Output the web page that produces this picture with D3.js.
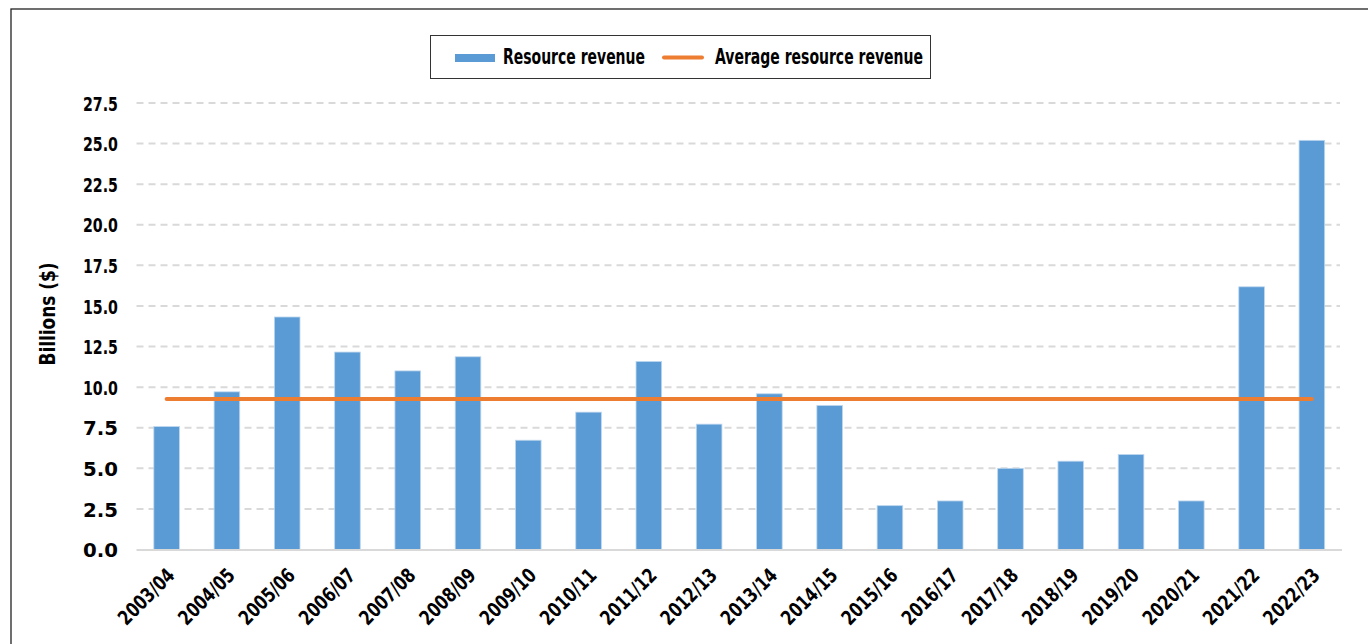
<!DOCTYPE html>
<html>
<head>
<meta charset="utf-8">
<script src="https://cdn.jsdelivr.net/npm/d3@7/dist/d3.min.js"></script>
<style>
  html, body { margin: 0; padding: 0; background: #fff; }
  svg { display: block; }
  text { font-family: "DejaVu Sans", "Liberation Sans", sans-serif; font-stretch: condensed; font-weight: bold; fill: #000; }
</style>
</head>
<body>
<svg id="chart" width="1368" height="644"></svg>
<script>
const categories = ["2003/04","2004/05","2005/06","2006/07","2007/08","2008/09","2009/10","2010/11","2011/12","2012/13","2013/14","2014/15","2015/16","2016/17","2017/18","2018/19","2019/20","2020/21","2021/22","2022/23"];
const resourceRevenue = [7.57, 9.71, 14.32, 12.16, 11.0, 11.87, 6.73, 8.46, 11.58, 7.72, 9.59, 8.87, 2.70, 2.99, 5.0, 5.44, 5.85, 2.99, 16.18, 25.2];
const averageRevenue = [9.27, 9.27, 9.27, 9.27, 9.27, 9.27, 9.27, 9.27, 9.27, 9.27, 9.27, 9.27, 9.27, 9.27, 9.27, 9.27, 9.27, 9.27, 9.27, 9.27];
const yTicks = [0, 2.5, 5, 7.5, 10, 12.5, 15, 17.5, 20, 22.5, 25, 27.5];
const seriesNames = ["Resource revenue", "Average resource revenue"];
const colors = { bar: "#5B9BD5", line: "#ED7D31" };

const FONT = '"DejaVu Sans", "Liberation Sans", sans-serif';
const svg = d3.select("#chart");

// outer frame (left & top visible)
svg.append("rect").attr("x", 11).attr("y", 9).attr("width", 1400).attr("height", 700)
  .attr("fill", "none").attr("stroke", "#222").attr("stroke-width", 1.3);

const plot = { left: 136.5, right: 1342, top: 103, bottom: 549.5 };

const x = d3.scaleBand().domain(categories).range([plot.left, plot.right])
  .paddingInner(0.575).paddingOuter(0.2875);
const y = d3.scaleLinear().domain([0, 27.5]).range([plot.bottom, plot.top]);

// gridlines
svg.append("g").selectAll("line").data(yTicks.filter(d => d > 0)).join("line")
  .attr("x1", plot.left).attr("x2", plot.right - 2)
  .attr("y1", d => y(d)).attr("y2", d => y(d))
  .attr("stroke", "#D9D9D9").attr("stroke-width", 2).attr("stroke-dasharray", "7,5");

// y axis
const yAxis = d3.axisLeft(y).tickValues(yTicks).tickFormat(d3.format(".1f")).tickSize(0).tickPadding(0);
const gy = svg.append("g").attr("transform", `translate(118,0)`).call(yAxis);
gy.select(".domain").remove();
gy.selectAll("text").attr("font-size", 20).attr("dy", "0.36em")
  .attr("textLength", 35).attr("lengthAdjust", "spacingAndGlyphs")
  .style("font-family", FONT).style("font-weight", "bold").attr("fill", "#000");

// bars
svg.append("g").selectAll("rect").data(categories).join("rect")
  .attr("x", d => x(d)).attr("width", x.bandwidth())
  .attr("y", (d, i) => y(resourceRevenue[i]))
  .attr("height", (d, i) => y(0) - y(resourceRevenue[i]))
  .attr("fill", colors.bar).attr("stroke", "#BDD7EE").attr("stroke-width", 0.8);

// baseline
svg.append("line").attr("x1", plot.left).attr("x2", plot.right)
  .attr("y1", y(0) + 0.5).attr("y2", y(0) + 0.5)
  .attr("stroke", "#D9D9D9").attr("stroke-width", 2);

// average line
const line = d3.line().x((d, i) => x(categories[i]) + x.bandwidth() / 2).y(d => y(d));
svg.append("path").datum(averageRevenue).attr("d", line)
  .attr("fill", "none").attr("stroke", colors.line).attr("stroke-width", 4).attr("stroke-linecap", "round");

// x axis labels
const xAxis = d3.axisBottom(x).tickSize(0).tickPadding(0);
const gx = svg.append("g").attr("transform", `translate(0,${plot.bottom})`).call(xAxis);
gx.select(".domain").remove();
gx.selectAll("text")
  .attr("text-anchor", "end").attr("font-size", 20)
  .attr("transform", "translate(-1,17) rotate(-45)")
  .attr("y", 0).attr("dy", "0.72em")
  .attr("textLength", 70).attr("lengthAdjust", "spacingAndGlyphs")
  .style("font-family", FONT).style("font-weight", "bold").attr("fill", "#000");

// y title
svg.append("text").attr("transform", "translate(55,314) rotate(-90)")
  .attr("text-anchor", "middle").attr("font-size", 21)
  .attr("textLength", 103).attr("lengthAdjust", "spacingAndGlyphs")
  .text("Billions ($)");

// legend
const lg = svg.append("g");
lg.append("rect").attr("x", 430.5).attr("y", 35.5).attr("width", 500).attr("height", 43)
  .attr("fill", "#fff").attr("stroke", "#333").attr("stroke-width", 1);
lg.append("rect").attr("x", 455).attr("y", 54).attr("width", 40).attr("height", 8).attr("fill", colors.bar);
lg.append("text").attr("x", 503).attr("y", 64).attr("font-size", 22)
  .attr("textLength", 142).attr("lengthAdjust", "spacingAndGlyphs").text(seriesNames[0]);
lg.append("line").attr("x1", 664).attr("x2", 702).attr("y1", 57.5).attr("y2", 57.5)
  .attr("stroke", colors.line).attr("stroke-width", 4).attr("stroke-linecap", "round");
lg.append("text").attr("x", 715).attr("y", 64).attr("font-size", 22)
  .attr("textLength", 208).attr("lengthAdjust", "spacingAndGlyphs").text(seriesNames[1]);
</script>
</body>
</html>
